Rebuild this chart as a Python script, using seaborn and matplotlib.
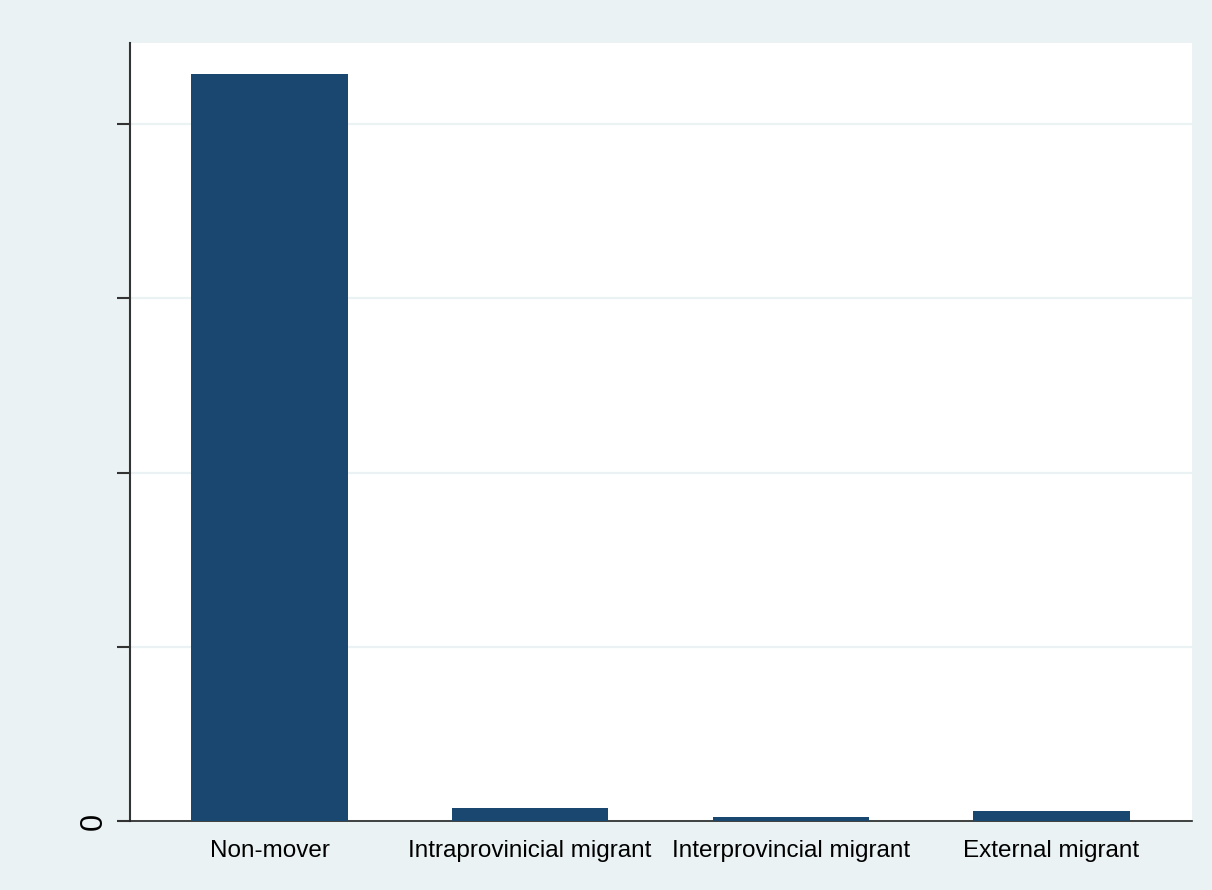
import matplotlib
matplotlib.use('Agg')
import matplotlib.pyplot as plt
import seaborn as sns
import pandas as pd

# categorias e valores
categorias = ['Non-mover', 'Intraprovinicial migrant', 'Interprovincial migrant', 'External migrant']
valores = [4.287, 0.075, 0.023, 0.057]
yticks = [0, 1, 2, 3, 4]
ytick_labels = ['0', '', '', '', '']

df = pd.DataFrame({'categoria': categorias, 'valor': valores})

sns.set_style('white')
plt.rcParams['font.family'] = ['Liberation Sans', 'DejaVu Sans']

fundo = '#EAF2F3'
fig = plt.figure(figsize=(12.12, 8.90), dpi=100, facecolor=fundo)
ax = fig.add_axes([0.1073, 0.0775, 0.8762, 0.8742])
ax.set_facecolor('white')

sns.barplot(data=df, x='categoria', y='valor', order=categorias,
            color='#1A476F', saturation=1, width=0.6, linewidth=0,
            ax=ax, zorder=3)

ax.set_xlim(-0.535, 3.539)
ax.set_ylim(0, 4.465)
ax.set_yticks(yticks)
ax.set_yticklabels(ytick_labels, rotation=90, va='center', fontsize=22)
ax.tick_params(axis='y', length=9.5, width=1.5, color='#333333', pad=6,
               left=True, labelcolor='black')
ax.tick_params(axis='x', length=0, pad=14, labelsize=17.5, labelcolor='black')

ax.yaxis.grid(True, color=fundo, linewidth=1.6, zorder=0)
ax.set_axisbelow(True)

for s in ['top', 'right']:
    ax.spines[s].set_visible(False)
ax.spines['left'].set_color('#333333')
ax.spines['left'].set_linewidth(1.5)
ax.spines['bottom'].set_color('#222222')
ax.spines['bottom'].set_linewidth(1.2)

ax.set_xlabel('')
ax.set_ylabel('')

fig.savefig('out.png', dpi=100, facecolor=fundo)
plt.close()
